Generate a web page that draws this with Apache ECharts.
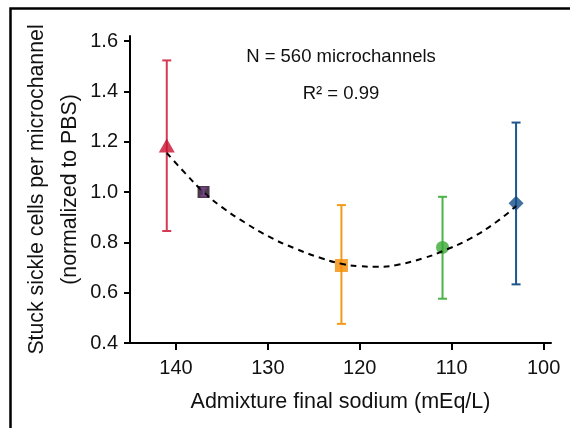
<!DOCTYPE html>
<html lang="en">
<head>
    <meta charset="UTF-8">
    <title>Stuck sickle cells vs sodium</title>
    <script src="https://cdn.jsdelivr.net/npm/echarts@6/dist/echarts.min.js"></script>
    <style>
        html, body { margin: 0; padding: 0; background: #fff; }
    </style>
</head>
<body>
<div id="main" style="width: 570px;height: 428px"></div>
<script type="text/javascript">
    // measured points (mean and error bar ends)
    var sodium = [141, 137, 122, 111, 103];
    var meanVal = [1.185, 1.0, 0.708, 0.78, 0.955];
    var lowVal = [0.845, 0.985, 0.476, 0.576, 0.633];
    var highVal = [1.523, 1.015, 0.948, 0.981, 1.276];
    var colors = ['#c8102e', '#1c0a1e', '#f28c00', '#3aaa35', '#134d87'];
    var barColors = ['#d43a52', '#7a3f8c', '#f39a1a', '#4cb347', '#1d568f'];
    var symbols = ['triangle', 'rect', 'rect', 'circle', 'diamond'];
    var symbolSizes = [[16, 14], 12, 13, 13, [15, 15]];

    // dashed fit curve
    var fitX = [141, 139, 137, 135, 133, 130, 127, 124, 122, 120, 118, 116, 113, 111, 108, 105, 103];
    var fitY = [1.155, 1.075, 1.0, 0.94, 0.89, 0.825, 0.775, 0.735, 0.715, 0.705, 0.703, 0.71, 0.738, 0.765, 0.815, 0.885, 0.945];

    var xTicks = [140, 130, 120, 110, 100];
    var yTicks = [0.4, 0.6, 0.8, 1.0, 1.2, 1.4, 1.6];

    var barData = [], pbsBar = [], pointData = [], fitData = [];
    for (var i = 0; i < sodium.length; i++) {
        var item = {value: [sodium[i], lowVal[i], highVal[i]], itemStyle: {color: barColors[i]}};
        if (i === 1) pbsBar.push(item); else barData.push(item);
        pointData.push({
            value: [sodium[i], meanVal[i]],
            symbol: symbols[i],
            symbolSize: symbolSizes[i],
            itemStyle: {color: colors[i]}
        });
    }
    for (var j = 0; j < fitX.length; j++) fitData.push([fitX[j], fitY[j]]);

    function renderBar(params, api) {
        var top = api.coord([api.value(0), api.value(2)]);
        var bot = api.coord([api.value(0), api.value(1)]);
        var w = params.seriesIndex === 3 ? 3 : 4.5;
        var style = {stroke: api.visual('color'), lineWidth: 2, fill: null};
        return {
            type: 'group',
            children: [
                {type: 'line', shape: {x1: top[0], y1: top[1], x2: bot[0], y2: bot[1]}, style: style},
                {type: 'line', shape: {x1: top[0] - w, y1: top[1], x2: top[0] + w, y2: top[1]}, style: style},
                {type: 'line', shape: {x1: bot[0] - w, y1: bot[1], x2: bot[0] + w, y2: bot[1]}, style: style}
            ]
        };
    }

    var myChart = echarts.init(document.getElementById('main'));
    var option = {
        animation: false,
        backgroundColor: '#fff',
        grid: {left: 130, right: 19, top: 36, bottom: 85},
        graphic: [
            {
                type: 'rect', left: 8, top: 6, silent: true,
                shape: {width: 620, height: 500},
                style: {fill: null, stroke: '#000', lineWidth: 2.5}
            },
            {
                type: 'text', x: 341, y: 57,
                style: {text: 'N = 560 microchannels', font: '18.5px "Liberation Sans", Arial, sans-serif',
                    fill: '#111', align: 'center', verticalAlign: 'middle'}
            },
            {
                type: 'text', x: 341, y: 94,
                style: {text: 'R² = 0.99', font: '18.5px "Liberation Sans", Arial, sans-serif',
                    fill: '#111', align: 'center', verticalAlign: 'middle'}
            }
        ],
        xAxis: {
            type: 'value',
            min: 99.2,
            max: 145,
            inverse: true,
            name: 'Admixture final sodium (mEq/L)',
            nameLocation: 'middle',
            nameGap: 48,
            nameMoveOverlap: false,
            nameTextStyle: {fontFamily: '"Liberation Sans", Arial, sans-serif', fontSize: 21.5, color: '#111'},
            splitLine: {show: false},
            axisLine: {lineStyle: {color: '#000', width: 2}},
            axisTick: {customValues: xTicks, length: 7, lineStyle: {color: '#000', width: 2}},
            axisLabel: {customValues: xTicks, margin: 15, fontSize: 20, color: '#111', fontFamily: '"Liberation Sans", Arial, sans-serif'}
        },
        yAxis: {
            type: 'value',
            min: 0.4,
            max: 1.62,
            name: 'Stuck sickle cells per microchannel\n(normalized to PBS)',
            nameLocation: 'middle',
            nameRotate: 90,
            nameGap: 43,
            nameMoveOverlap: false,
            nameTextStyle: {fontFamily: '"Liberation Sans", Arial, sans-serif', fontSize: 21.3, lineHeight: 33, color: '#111'},
            splitLine: {show: false},
            axisLine: {show: true, lineStyle: {color: '#000', width: 2}},
            axisTick: {show: true, customValues: yTicks, length: 6, lineStyle: {color: '#000', width: 2}},
            axisLabel: {
                customValues: yTicks, margin: 12, fontSize: 20, color: '#111',
                fontFamily: '"Liberation Sans", Arial, sans-serif',
                formatter: function (v) { return v.toFixed(1); }
            }
        },
        series: [
            {type: 'custom', renderItem: renderBar, data: barData, z: 1},
            {type: 'scatter', data: pointData, z: 2},
            {
                type: 'line', data: fitData, smooth: true, symbol: 'none', z: 3,
                lineStyle: {color: '#000', width: 2, type: [6, 5]}
            },
            {type: 'custom', renderItem: renderBar, data: pbsBar, z: 4}
        ]
    };
    myChart.setOption(option);
</script>
</body>
</html>
